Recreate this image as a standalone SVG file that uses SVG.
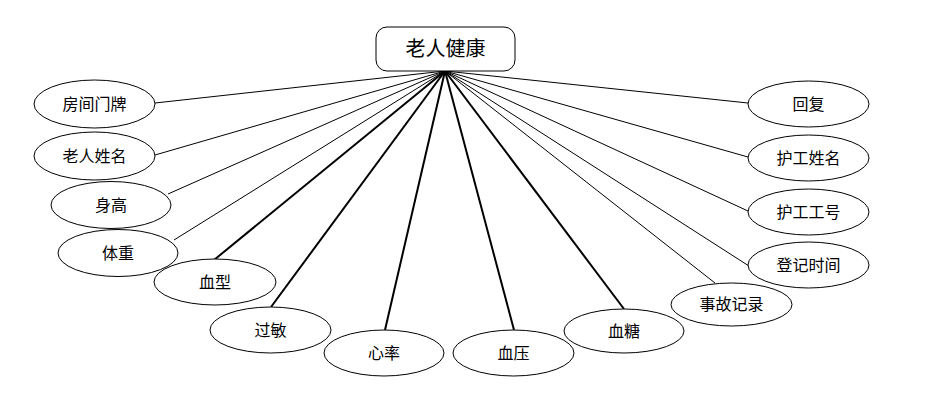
<svg xmlns="http://www.w3.org/2000/svg" width="936" height="400" viewBox="0 0 936 400">
<style>
.n ellipse{fill:#fff;stroke:#000;stroke-width:1}
.n text{font-family:"Liberation Serif","Noto Sans CJK SC",serif;font-size:16px;fill:#000;text-anchor:middle;dominant-baseline:central}
.c line{stroke:#000;stroke-width:1}
.c line.t{stroke-width:2}
</style>
<rect width="936" height="400" fill="#fff"/>
<g class="c" id="connectors">
<line x1="445" y1="71" x2="155" y2="103"/>
<line x1="445" y1="71" x2="155" y2="155"/>
<line x1="445" y1="71" x2="168" y2="194"/>
<line x1="445" y1="71" x2="174" y2="240"/>
<line class="t" x1="445" y1="71" x2="214" y2="260"/>
<line class="t" x1="445" y1="71" x2="271" y2="307"/>
<line class="t" x1="445" y1="71" x2="385" y2="330"/>
<line class="t" x1="445" y1="71" x2="514" y2="330"/>
<line class="t" x1="445" y1="71" x2="624" y2="309"/>
<line x1="445" y1="71" x2="715" y2="283"/>
<line x1="445" y1="71" x2="749" y2="266"/>
<line x1="445" y1="71" x2="748" y2="211"/>
<line x1="445" y1="71" x2="748" y2="157"/>
<line x1="445" y1="71" x2="748" y2="103"/>
</g>
<g class="n" id="n_root">
<rect x="376" y="27" width="139" height="44" rx="11" fill="#fff" stroke="#000" stroke-width="1"/>
<text x="445.5" y="49" style="font-size:20px">老人健康</text>
</g>
<g class="n" id="n_fangjian"><ellipse cx="94.5" cy="104" rx="60.5" ry="24"/><text x="94.5" y="104">房间门牌</text></g>
<g class="n" id="n_laoren"><ellipse cx="94.5" cy="156" rx="60.5" ry="24"/><text x="94.5" y="156">老人姓名</text></g>
<g class="n" id="n_shengao"><ellipse cx="111" cy="205" rx="60" ry="23.5"/><text x="111" y="205">身高</text></g>
<g class="n" id="n_tizhong"><ellipse cx="118" cy="253" rx="60" ry="23.5"/><text x="118" y="253">体重</text></g>
<g class="n" id="n_xuexing"><ellipse cx="215" cy="282" rx="61" ry="23"/><text x="215" y="282">血型</text></g>
<g class="n" id="n_guomin"><ellipse cx="270.5" cy="330" rx="60.5" ry="23"/><text x="270.5" y="330">过敏</text></g>
<g class="n" id="n_xinlv"><ellipse cx="384" cy="353" rx="60" ry="23"/><text x="384" y="353">心率</text></g>
<g class="n" id="n_xueya"><ellipse cx="513.5" cy="353" rx="60.5" ry="23"/><text x="513.5" y="353">血压</text></g>
<g class="n" id="n_xuetang"><ellipse cx="624" cy="331" rx="60" ry="22"/><text x="624" y="331">血糖</text></g>
<g class="n" id="n_shigu"><ellipse cx="731.5" cy="304.5" rx="60.5" ry="21.5"/><text x="731.5" y="304.5">事故记录</text></g>
<g class="n" id="n_dengji"><ellipse cx="808.5" cy="265" rx="60.5" ry="23"/><text x="808.5" y="265">登记时间</text></g>
<g class="n" id="n_gonghao"><ellipse cx="808.5" cy="212" rx="60.5" ry="23"/><text x="808.5" y="212">护工工号</text></g>
<g class="n" id="n_hugong"><ellipse cx="808.5" cy="158" rx="60.5" ry="23"/><text x="808.5" y="158">护工姓名</text></g>
<g class="n" id="n_huifu"><ellipse cx="808.5" cy="104" rx="60.5" ry="23"/><text x="808.5" y="104">回复</text></g>
</svg>
